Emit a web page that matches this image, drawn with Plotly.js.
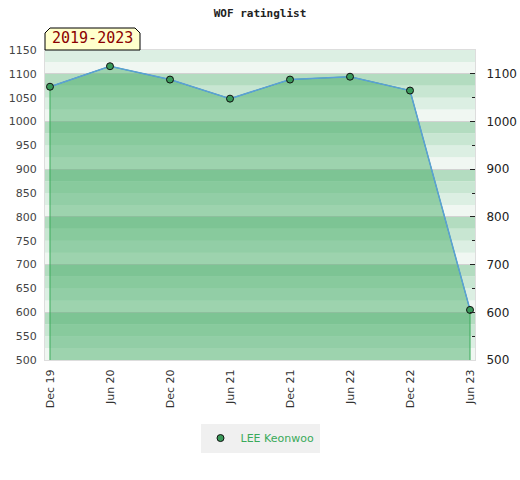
<!DOCTYPE html>
<html>
<head>
<meta charset="utf-8">
<script src="https://cdn.plot.ly/plotly-3.0.1.min.js"></script>
<style>html,body{margin:0;padding:0;background:#fff}#chart{width:520px;height:480px}</style>
</head>
<body>
<div id="chart"></div>
<script>
var periods = ["Dec 19","Jun 20","Dec 20","Jun 21","Dec 21","Jun 22","Dec 22","Jun 23"];
var ratings = [1073, 1116, 1088, 1048, 1088, 1094, 1065, 605];
var playerName = "LEE Keonwoo";
var periodLabel = "2019-2023";
var chartTitle = "WOF ratinglist";
var yMin = 500, yMax = 1150;

var bandColors = ["#f0f7f2", "#dcefe3", "#c8e6d2", "#b3dcc0"];
var shapes = [];
for (var v = yMin; v < yMax; v += 25) {
  var idx = Math.round(((v % 100) + 100) % 100 / 25);
  shapes.push({type:'rect', xref:'paper', yref:'y', x0:0, x1:1, y0:v, y1:v+25,
    fillcolor:bandColors[idx], line:{width:0}, layer:'below'});
}
shapes.push({type:'path', xref:'paper', yref:'paper', xsizemode:'pixel', ysizemode:'pixel',
  xanchor:0, yanchor:1, path:'M0,0 L0,17 L5,22 L90,22 L95,17 L95,0 Z',
  fillcolor:'#ffffcc', line:{color:'#000', width:1}, layer:'above'});

var n = periods.length;
var fillX = [periods[0]].concat(periods).concat([periods[n-1]]);
var fillY = [yMin].concat(ratings).concat([yMin]);

var traces = [
  {x: fillX, y: fillY, type:'scatter', mode:'lines', fill:'toself',
   fillcolor:'rgba(63,170,97,0.47)', line:{color:'#3aaa5a', width:1},
   hoverinfo:'skip', showlegend:false},
  {x: periods, y: ratings, type:'scatter', mode:'lines', showlegend:false,
   line:{color:'#5b9fd8', width:1.5}},
  {x: periods, y: ratings, type:'scatter', mode:'markers', name: playerName,
   marker:{color:'#3a9a5a', size:7, line:{color:'#111', width:1}}},
  {x: periods, y: ratings, yaxis:'y2', type:'scatter', mode:'none', showlegend:false, hoverinfo:'skip'}
];

var layout = {
  width:520, height:480,
  margin:{l:45, r:45, t:50, b:120},
  paper_bgcolor:'#fff', plot_bgcolor:'#fff',
  title:{text:'<b>'+chartTitle+'</b>', font:{family:'DejaVu Sans Mono', size:11, color:'#222'},
    x:0.5, xanchor:'center', y:1-13/480, yanchor:'middle', yref:'container'},
  showlegend:true,
  legend:{orientation:'h', x:0.5, xanchor:'center', y:-0.205, yanchor:'top', itemwidth:30,
    bgcolor:'#f0f0f0', font:{family:'DejaVu Sans', size:11, color:'#3aaa5a'}},
  xaxis:{type:'category', range:[-0.083, n-1+0.083], tickangle:-90,
    showgrid:false, zeroline:false, showline:true, linecolor:'#ddd', linewidth:1, mirror:true,
    ticks:'outside', ticklen:4, tickcolor:'rgba(0,0,0,0)',
    tickfont:{family:'DejaVu Sans', size:11, color:'#333'}},
  yaxis:{range:[yMin, yMax], dtick:50, tick0:500, showgrid:false, zeroline:false,
    showline:true, linecolor:'#ddd', linewidth:1,
    ticks:'outside', ticklen:5, tickcolor:'rgba(0,0,0,0)',
    tickfont:{family:'DejaVu Sans', size:11, color:'#444'}},
  yaxis2:{overlaying:'y', side:'right', range:[yMin, yMax], tick0:500, dtick:100,
    showgrid:true, gridcolor:'#d2d2d2', gridwidth:1, zeroline:false,
    showline:true, linecolor:'#ddd',
    ticks:'inside', ticklen:5, tickcolor:'#222', ticklabelstandoff:8,
    minor:{dtick:50, tick0:500, ticks:'inside', ticklen:3, tickcolor:'#222', showgrid:false},
    tickfont:{family:'DejaVu Sans', size:12, color:'#222'}},
  shapes: shapes,
  annotations:[{xref:'paper', yref:'paper', x:0, y:1, xanchor:'left', yanchor:'bottom',
    xshift:5, yshift:1, showarrow:false, text:periodLabel,
    font:{family:'DejaVu Sans Mono', size:15, color:'#8b0000'}}]
};

Plotly.newPlot('chart', traces, layout, {displayModeBar:false, staticPlot:true});
</script>
</body>
</html>
